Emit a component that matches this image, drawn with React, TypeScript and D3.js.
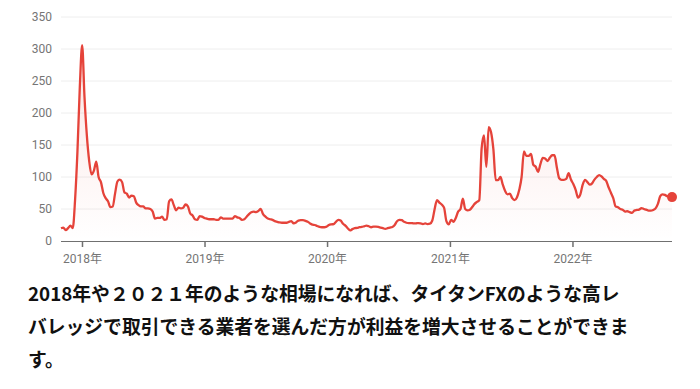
import React from "react";
import * as d3 from "d3";

// weekly values, first week starts 2017-10-29
const startDate = new Date(2017, 9, 29);
const wk2017 = [20, 21, 17, 20, 24, 20, 65, 140, 240];
const wk2018 = [306, 225, 165, 125, 104, 110, 124, 100, 92, 75, 67, 62, 53, 54, 74, 93, 96, 92, 76, 74, 68, 71, 70, 60, 56, 54, 54, 51, 51, 50, 46, 35, 36, 36, 38, 33, 34, 62, 65, 56, 48, 52, 51, 52, 57, 54, 43, 40, 34, 33, 39, 38];
const wk2019 = [36, 35, 34, 34, 34, 33, 33, 37, 35, 35, 35, 35, 35, 39, 37, 36, 33, 34, 38, 42, 45, 46, 45, 47, 50, 42, 38, 35, 34, 33, 31, 30, 29, 28.5, 28.5, 28.5, 30, 31, 27.5, 29, 32, 32.5, 32.5, 31.5, 30, 27.5, 25.5, 25, 23.5, 22, 21.5, 21.5];
const wk2020 = [22.5, 25, 26, 26.5, 30, 33, 32, 27, 24, 20, 16.5, 18.5, 20, 20.5, 21.5, 22, 23, 24, 23, 21.5, 22.5, 22.5, 22, 21, 20, 19, 20, 21, 22, 25, 31, 33, 32.5, 30, 28.5, 28, 28, 27.5, 27.5, 28, 27.5, 26.5, 27.5, 26.5, 27, 32, 50, 64, 60, 57, 52, 31, 26];
const wk2021 = [33, 30, 36, 46, 50, 66, 50, 48, 49, 53, 58, 61, 64, 145, 165, 116, 178, 170, 143, 95, 95, 100, 88, 78, 73, 74, 67, 64, 68, 80, 100, 140, 133, 133, 136, 119, 116, 108, 120, 130, 129, 125, 130, 134, 134, 115, 98, 95.6, 95.6, 97, 106, 96];
const wk2022 = [89, 80, 68, 73, 88, 95.6, 92, 88, 90, 96, 100, 103, 101, 97, 94, 84, 75.5, 67, 54, 52.6, 50, 49, 46, 46.5, 45, 44, 47.5, 48.5, 49, 51.5, 50, 49, 47.4, 47.4, 48.5, 51, 58, 70, 73, 72, 70, 70, 68.6];

const yTicks = [0, 50, 100, 150, 200, 250, 300, 350];
const xYears = [2018, 2019, 2020, 2021, 2022];

const textLines = [
  "2018年や２０２１年のような相場になれば、タイタンFXのような高レ",
  "バレッジで取引できる業者を選んだ方が利益を増大させることができま",
  "す。",
];

const RED = "#e5433a";

export default function App() {
  const values = [...wk2017, ...wk2018, ...wk2019, ...wk2020, ...wk2021, ...wk2022];
  const data = values.map((v, i) => ({ date: d3.timeWeek.offset(startDate, i), value: v }));

  const left = 61;
  const right = 672;
  const top = 17;
  const bottom = 241;

  const x = d3
    .scaleTime()
    .domain(d3.extent(data, (d) => d.date) as [Date, Date])
    .range([left, right]);
  const y = d3.scaleLinear().domain([0, 350]).range([bottom, top]);

  const line = d3
    .line<{ date: Date; value: number }>()
    .x((d) => x(d.date))
    .y((d) => y(d.value))
    .curve(d3.curveMonotoneX);
  const area = d3
    .area<{ date: Date; value: number }>()
    .x((d) => x(d.date))
    .y0(bottom)
    .y1((d) => y(d.value))
    .curve(d3.curveMonotoneX);

  const last = data[data.length - 1];

  return (
    <div style={{ position: "absolute", left: 0, top: 0 }}>
      <svg width={700} height={389} style={{ display: "block" }}>
        <defs>
          <linearGradient id="fillGrad" x1="0" y1="0" x2="0" y2="1">
            <stop offset="0%" stopColor={RED} stopOpacity={0.14} />
            <stop offset="100%" stopColor={RED} stopOpacity={0} />
          </linearGradient>
        </defs>
        {yTicks.map((t) => (
          <g key={t}>
            {t > 0 && <line x1={left} x2={right} y1={y(t)} y2={y(t)} stroke="#eeeeee" strokeWidth={1} />}
            <text
              x={52}
              y={y(t)}
              dy="0.35em"
              textAnchor="end"
              fontFamily="Roboto, sans-serif"
              fontSize={12}
              fill="#757575"
            >
              {t}
            </text>
          </g>
        ))}
        <path d={area(data) || ""} fill="url(#fillGrad)" />
        <path d={line(data) || ""} fill="none" stroke={RED} strokeWidth={2.3} strokeLinejoin="round" />
        <circle cx={x(last.date)} cy={y(last.value)} r={5} fill={RED} />
        <line x1={left} x2={right} y1={bottom + 0.5} y2={bottom + 0.5} stroke="#707070" strokeWidth={1} />
        {xYears.map((yr) => {
          const xp = x(new Date(yr, 0, 1));
          return (
            <g key={yr}>
              <line x1={xp} x2={xp} y1={bottom} y2={bottom + 6} stroke="#707070" strokeWidth={1.5} />
              <text
                x={xp}
                y={263}
                textAnchor="middle"
                fontFamily="Roboto, 'Noto Sans CJK JP', sans-serif"
                fontSize={12}
                fill="#757575"
              >
                {yr}年
              </text>
            </g>
          );
        })}
        {textLines.map((s, i) => (
          <text
            key={i}
            x={28}
            y={301 + i * 33}
            fontFamily="'Noto Sans CJK JP', sans-serif"
            fontWeight="bold"
            fontSize={18.8}
            fill="#111"
          >
            {s}
          </text>
        ))}
      </svg>
    </div>
  );
}
